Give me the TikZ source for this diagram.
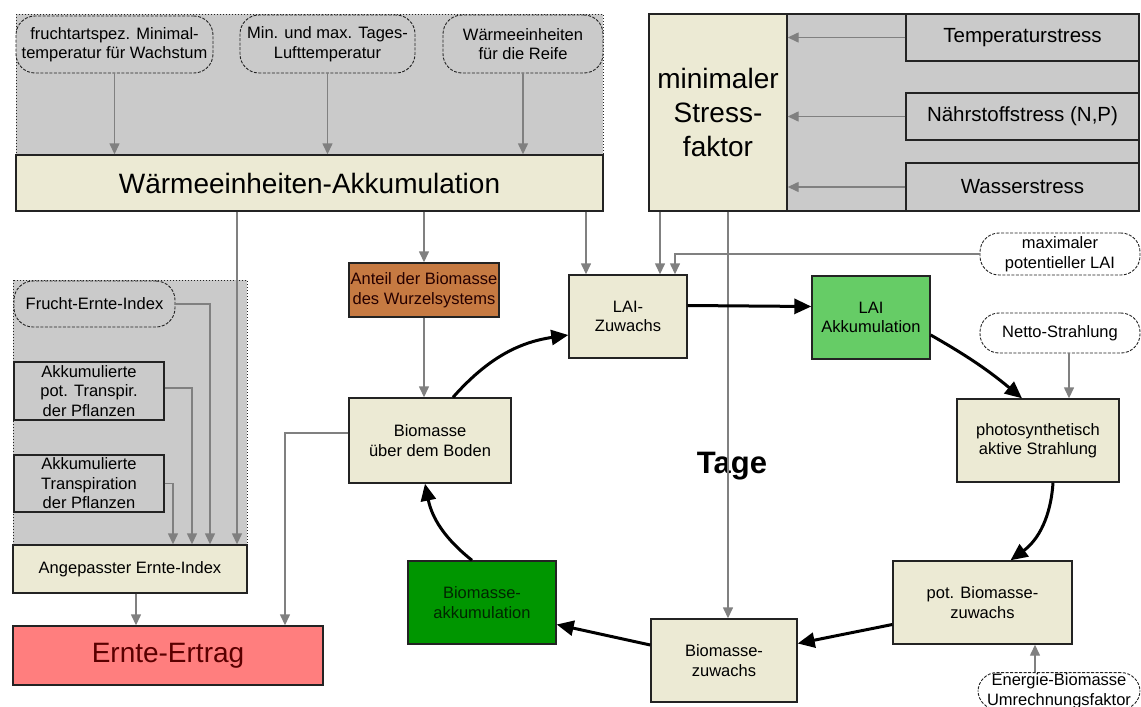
\documentclass[tikz,border=0pt]{standalone}
\usepackage{fontspec}
\setmainfont{Liberation Sans}
\usetikzlibrary{positioning,arrows.meta}

\definecolor{boxbeige}{RGB}{236,234,212}
\definecolor{panelgrau}{RGB}{202,202,202}
\definecolor{linie}{RGB}{35,35,35}
\definecolor{zufluss}{RGB}{128,128,128}
\definecolor{wurzelbraun}{RGB}{198,122,66}
\definecolor{laigruen}{RGB}{102,204,102}
\definecolor{biogruen}{RGB}{0,150,0}
\definecolor{ertragrot}{RGB}{255,126,126}

\newcommand{\schriftklein}{\fontsize{16.5}{19.5}\selectfont}
\newcommand{\schriftmittel}{\fontsize{20.5}{24}\selectfont}
\newcommand{\schriftgross}{\fontsize{28}{34}\selectfont}

\begin{document}
\begin{tikzpicture}[x=1pt,y=-1pt,
  box/.style={draw=linie,line width=1.4pt,fill=boxbeige,align=center,inner sep=1pt,font=\schriftklein},
  oval/.style={draw=linie,line width=0.9pt,dash pattern=on 3pt off 1.5pt,rounded corners=19pt,
    fill=panelgrau,align=center,inner sep=1pt,font=\schriftklein},
  feed/.style={zufluss,line width=1.4pt,-{Triangle[length=11pt,width=10pt]}},
  kreis/.style={black,line width=3pt,-{Triangle[length=17pt,width=15pt]}}]
  \useasboundingbox (0,0) rectangle (1141,707);

  \filldraw[fill=panelgrau,draw=linie,dotted,line width=1pt] (16,14) rectangle (603,155);
  \filldraw[fill=panelgrau,draw=linie,line width=1.4pt] (787,14) rectangle (1139,211);
  \filldraw[fill=panelgrau,draw=linie,dotted,line width=1pt] (13,280) rectangle (247,545);

  \node[oval,minimum width=197,minimum height=57] (mintemp) at (114.5,44.5)
    {fruchtartspez. Minimal-\\temperatur für Wachstum};
  \node[oval,minimum width=175,minimum height=58] (lufttemp) at (327.5,44)
    {Min. und max. Tages-\\Lufttemperatur};
  \node[oval,minimum width=160,minimum height=58] (reife) at (523,44)
    {Wärmeeinheiten\\für die Reife};
  \node[box,minimum width=587,minimum height=56,font=\schriftgross] (waerme) at (309.5,183)
    {Wärmeeinheiten-Akkumulation};

  \node[box,minimum width=138,minimum height=197,font=\schriftgross] (stress) at (718,112.5)
    {minimaler\\Stress-\\faktor};
  \node[box,fill=panelgrau,minimum width=233,minimum height=47,font=\schriftmittel] (tempstress)
    at (1022.5,37.5) {Temperaturstress};
  \node[box,fill=panelgrau,minimum width=233,minimum height=47,font=\schriftmittel] (naehrstress)
    at (1022.5,116.5) {Nährstoffstress (N,P)};
  \node[box,fill=panelgrau,minimum width=233,minimum height=48,font=\schriftmittel] (wasserstress)
    at (1022.5,187) {Wasserstress};

  \node[oval,minimum width=161,minimum height=46] (frucht) at (94.5,304) {Frucht-Ernte-Index};
  \node[box,fill=panelgrau,minimum width=150,minimum height=58] (akkpot) at (89,391)
    {Akkumulierte\\pot. Transpir.\\der Pflanzen};
  \node[box,fill=panelgrau,minimum width=150,minimum height=57] (akktrans) at (89,483.5)
    {Akkumulierte\\Transpiration\\der Pflanzen};
  \node[box,minimum width=234,minimum height=48] (angepasst) at (130,569)
    {Angepasster Ernte-Index};
  \node[box,fill=ertragrot,text=red!35!black,minimum width=310,minimum height=59,
    font=\schriftgross] (ernte) at (168,655.5) {Ernte-Ertrag};

  \node[box,fill=wurzelbraun,text=black!85!red,minimum width=150,minimum height=54] (anteil)
    at (424,290) {Anteil der Biomasse\\des Wurzelsystems};
  \node[box,minimum width=162,minimum height=85] (bueber) at (430,440.5)
    {Biomasse\\über dem Boden};
  \node[box,minimum width=118,minimum height=83] (laiz) at (628,316.5) {LAI-\\Zuwachs};
  \node[box,fill=laigruen,minimum width=118,minimum height=83] (laiakk) at (871,317.5)
    {LAI\\Akkumulation};
  \node[oval,fill=white,minimum width=160,minimum height=42] (maxlai) at (1060,254)
    {maximaler\\potentieller LAI};
  \node[oval,fill=white,minimum width=160,minimum height=40] (netto) at (1060,333)
    {Netto-Strahlung};
  \node[box,minimum width=162,minimum height=83] (photo) at (1038,440.5)
    {photosynthetisch\\aktive Strahlung};
  \node[box,minimum width=179,minimum height=83] (potbm) at (982.5,602.5)
    {pot. Biomasse-\\zuwachs};
  \node[oval,fill=white,minimum width=162,minimum height=36] (energie) at (1059,691)
    {Energie-Biomasse\\Umrechnungsfaktor};
  \node[box,minimum width=146,minimum height=83] (bzuw) at (724,660.5) {Biomasse-\\zuwachs};
  \node[box,fill=biogruen,text=green!15!black,minimum width=148,minimum height=83] (bakk)
    at (482,602.5) {Biomasse-\\akkumulation};
  \node[font=\fontsize{31}{36}\selectfont\bfseries] (tage) at (732,466) {Tage};

  \coordinate (w2a) at ([xshift=-72.5]waerme.south);
  \coordinate (inA) at ([xshift=-42]laiz.north);
  \coordinate (inB) at ([xshift=32]laiz.north);
  \coordinate (inC) at ([xshift=47]laiz.north);
  \coordinate (tagline) at ([xshift=10]stress.south);
  \coordinate (nettoab) at ([xshift=9]netto.south);
  \coordinate (energieauf) at ([xshift=-24]energie.north);
  \coordinate (bueberaus) at ([yshift=7.5]bueber.west);
  \coordinate (ernteB) at ([xshift=117]ernte.north);
  \coordinate (ernteA) at ([xshift=6]angepasst.south);
  \coordinate (aiA) at ([xshift=80]angepasst.north);
  \coordinate (aiB) at ([xshift=62]angepasst.north);
  \coordinate (aiC) at ([xshift=43]angepasst.north);

  \path[feed]
    (mintemp) edge (mintemp |- waerme.north)
    (lufttemp) edge (lufttemp |- waerme.north)
    (reife) edge (reife |- waerme.north)
    (tempstress) edge (tempstress -| stress.east)
    (naehrstress) edge (naehrstress -| stress.east)
    (wasserstress) edge (wasserstress -| stress.east)
    (w2a) edge (w2a |- angepasst.north)
    (anteil |- waerme.south) edge (anteil)
    (inA |- waerme.south) edge (inA)
    (inB |- stress.south) edge (inB)
    (tagline) edge (tagline |- bzuw.north)
    (nettoab) edge (nettoab |- photo.north)
    (energieauf) edge (energieauf |- potbm.south)
    (anteil) edge (anteil |- bueber.north)
    (ernteA) edge (ernteA |- ernte.north);
  \draw[feed] (maxlai.west) -| (inC);
  \draw[feed] (bueberaus) -| (ernteB);
  \draw[feed] (frucht.east) -| (aiA);
  \draw[feed] ([yshift=3]akkpot.east) -| (aiB);
  \draw[feed] (akktrans.east) -| (aiC);

  \path[kreis]
    ([yshift=11]laiz.east) edge ([yshift=11]laiakk.west)
    ([yshift=-17.5]laiakk.east) edge[bend left=5] ([xshift=-16]photo.north)
    ([xshift=15]photo.south) edge[bend left=25] ([xshift=28]potbm.north)
    ([yshift=-22]potbm.west) edge ([yshift=17]bzuw.east)
    ([yshift=15.5]bzuw.west) edge ([yshift=-22]bakk.east)
    ([xshift=-10]bakk.north) edge[bend left=20] ([xshift=-5]bueber.south)
    ([xshift=23]bueber.north) edge[bend left=20] ([yshift=-18.5]laiz.west);
\end{tikzpicture}
\end{document}
